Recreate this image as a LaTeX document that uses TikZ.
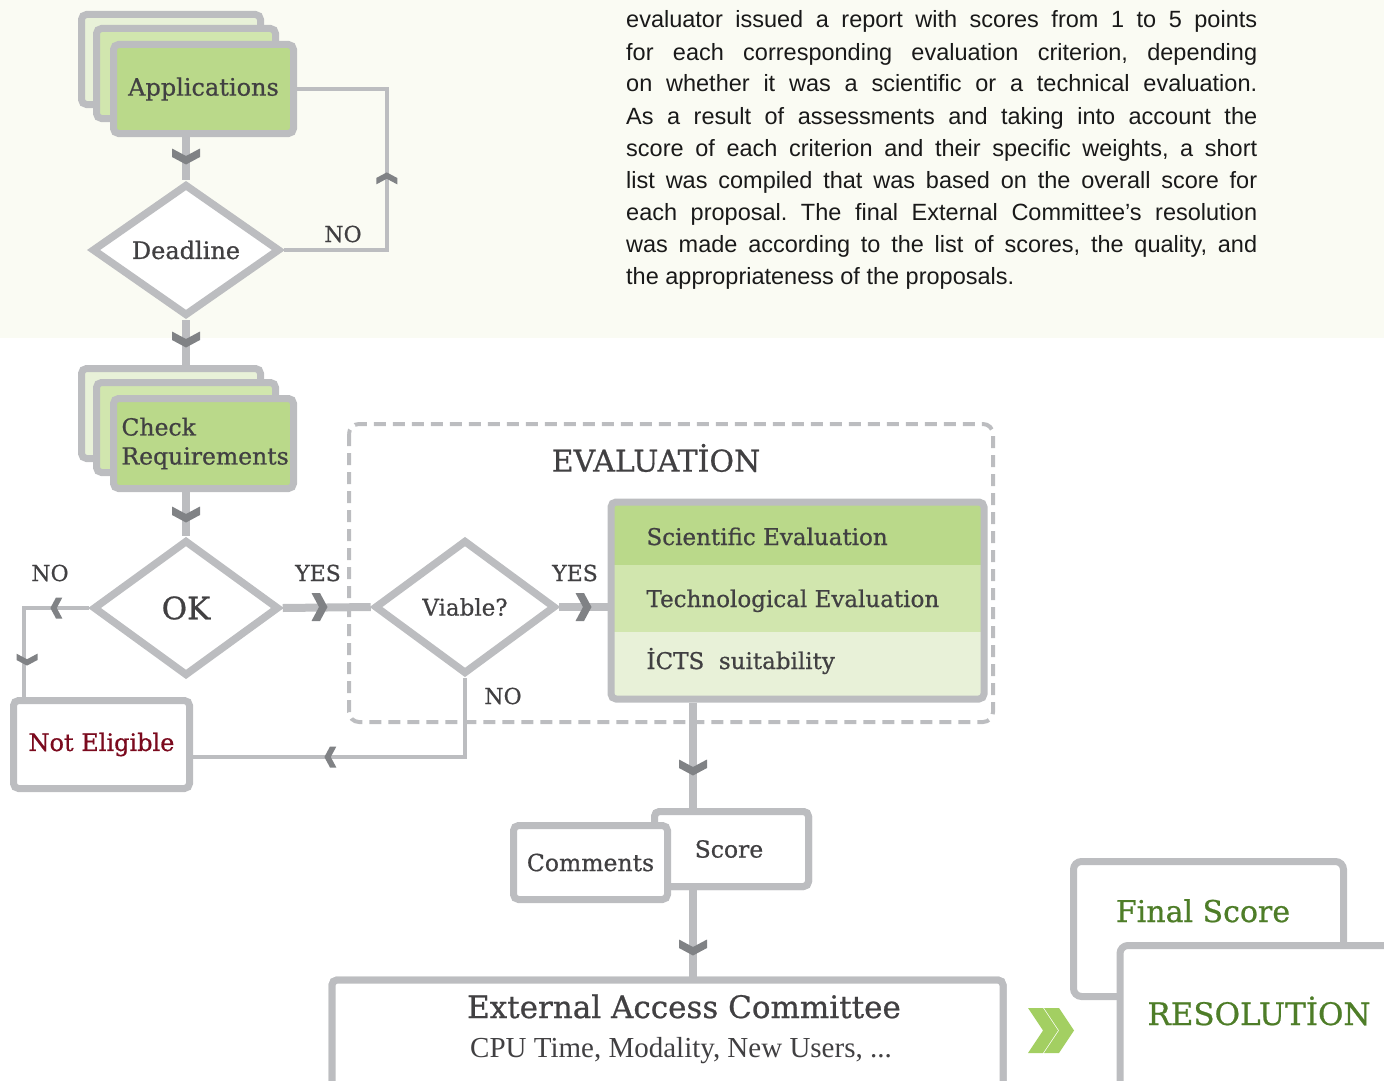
\documentclass[tikz,border=0pt]{standalone}
\usepackage{fontspec}
\usetikzlibrary{shapes.geometric,calc}
\newfontfamily\slab[FakeBold=0.7]{DejaVu Serif}
\newfontfamily\bodyf{Liberation Sans}
\newfontfamily\lightf{Liberation Serif}
\definecolor{gborder}{HTML}{BCBDC0}
\definecolor{chevc}{HTML}{808285}
\definecolor{tdark}{HTML}{414042}
\definecolor{gA}{HTML}{BAD98A}
\definecolor{gB}{HTML}{D1E6AE}
\definecolor{gC}{HTML}{E8F1D8}
\definecolor{cream}{HTML}{FAFBF3}
\definecolor{dred}{HTML}{7B0A1E}
\definecolor{fgreen}{HTML}{4E7D28}
\definecolor{lgreen}{HTML}{A3CF62}
\tikzset{
  box/.style={draw=gborder, line width=7pt, rounded corners=5pt, inner sep=0pt, fill=white},
  dia/.style={diamond, draw=gborder, line width=7.5pt, fill=white, inner sep=0pt},
  flow/.style={draw=gborder, line width=8pt},
  back/.style={draw=gborder, line width=4.5pt},
  txt/.style={font=\slab\fontsize{24}{29}\selectfont, text=tdark},
  lbl/.style={font=\slab\fontsize{22}{26}\selectfont, text=tdark},
  para/.style={font=\bodyf\fontsize{23.5}{32}\selectfont\frenchspacing, text=black!90, anchor=base west, inner sep=0pt},
  chev/.pic={\fill[chevc] (-8.5,-14)--(0,-14)--(7.5,0)--(0,14)--(-8.5,14)--(-1,0)--cycle;}
}
\begin{document}
\begin{tikzpicture}[x=1pt,y=1pt]
\useasboundingbox (0,0) rectangle (1384,-1081);
\clip (0,0) rectangle (1384,-1081);
\fill[cream] (0,0) rectangle (1384,-338);

% paragraph
\node[para] (l1) at (626,-28) {\makebox[631pt][s]{evaluator issued a report with scores from 1 to 5 points}};
\node[para] (l2) at (626,-60) {\makebox[631pt][s]{for each corresponding evaluation criterion, depending}};
\node[para] (l3) at (626,-92) {\makebox[631pt][s]{on whether it was a scientific or a technical evaluation.}};
\node[para] (l4) at (626,-124) {\makebox[631pt][s]{As a result of assessments and taking into account the}};
\node[para] (l5) at (626,-156) {\makebox[631pt][s]{score of each criterion and their specific weights, a short}};
\node[para] (l6) at (626,-188) {\makebox[631pt][s]{list was compiled that was based on the overall score for}};
\node[para] (l7) at (626,-220) {\makebox[631pt][s]{each proposal. The final External Committee’s resolution}};
\node[para] (l8) at (626,-252) {\makebox[631pt][s]{was made according to the list of scores, the quality, and}};
\node[para] (l9) at (626,-284) {the appropriateness of the proposals.};

% evaluation dashed frame
\draw[gborder, line width=4pt, dash pattern=on 12pt off 7pt, rounded corners=10pt] (349,-424) rectangle (993,-722);
\node[font=\slab\fontsize{30}{34}\selectfont, text=tdark] (evt) at (656,-458) {EVALUATİON};

% reference coordinates for the vertical flows
\coordinate (cl) at (186,0);
\coordinate (cx) at (693,0);

% connectors into the stacked boxes (drawn first, so the stacks cover their ends)
\coordinate (reqtop) at (186,-368);

% nodes
\node[box, fill=gC, minimum width=179pt, minimum height=90pt] (app3) at (171,-59.5) {};
\node[box, fill=gB, minimum width=179pt, minimum height=90pt] (app2) at (186,-73.5) {};
\node[box, fill=gA, minimum width=180pt, minimum height=89pt, txt] (app) at (203.5,-89) {Applications};

\node[dia, minimum width=188pt, minimum height=132pt, txt] (dead) at (186,-250) {Deadline};

\draw[flow] (dead.south) -- (reqtop);

\node[box, fill=gC, minimum width=179pt, minimum height=90pt] (req3) at (171,-413.5) {};
\node[box, fill=gB, minimum width=179pt, minimum height=90pt] (req2) at (186,-427.5) {};
\node[box, fill=gA, minimum width=180pt, minimum height=90pt, txt, font=\slab\fontsize{23.5}{29}\selectfont, text width=164pt, align=left] (req) at (203.5,-443.5) {Check\\Requirements};

\node[dia, minimum width=186pt, minimum height=136pt, font=\slab\fontsize{31}{34}\selectfont, text=tdark] (ok) at (186,-608) {OK};

\node[box, minimum width=176pt, minimum height=88pt, font=\slab\fontsize{24}{29}\selectfont, text=dred] (ne) at (101.5,-744.5) {Not Eligible};

\node[dia, minimum width=181pt, minimum height=134pt, lbl, font=\slab\fontsize{23}{27}\selectfont] (via) at (465,-607) {Viable?};

% connectors
\draw[flow] (app.south -| cl) -- (dead.north);
\draw[back] (dead.east) -- ++(103,0) coordinate (nc) |- (app.east);
\draw[flow] (req.south -| cl) -- (ok.north);
\draw[back] (ok.west) -| ($(ne.north west)+(14,0)$);
\draw[flow] (ok.east) -- (via.west);
\draw[back] (via.south) |- ($(ne.east)+(0,-12.5)$);

% evaluation panel
\fill[gA] (611,-502) rectangle (984,-565);
\fill[gB] (611,-565) rectangle (984,-632);
\fill[gC] (611,-632) rectangle (984,-699);
\node[box, fill=none, minimum width=373pt, minimum height=197pt] (panel) at (797.5,-600.5) {};
\draw[flow] (via.east) -- (via.east -| panel.west);
\node[txt, anchor=base west, font=\slab\fontsize{23}{27}\selectfont] (se) at (643,-545) {Scientific Evaluation};
\node[txt, anchor=base west, font=\slab\fontsize{23}{27}\selectfont] (te) at (643,-607) {Technological Evaluation};
\node[txt, anchor=base west, font=\slab\fontsize{23}{27}\selectfont] (ic) at (643,-669) {İCTS\ \ suitability};

% lower flow
\node[box, minimum width=154pt, minimum height=75pt] (score) at (731.5,-849) {};
\node[box, minimum width=671pt, minimum height=120pt] (eac) at (667.5,-1040) {};
\draw[flow] (panel.south -| cx) -- (score.north -| cx);
\draw[flow] (score.south -| cx) -- (eac.north -| cx);
\node[box, minimum width=154pt, minimum height=75pt] (score) at (731.5,-849) {};
\node[lbl, font=\slab\fontsize{23.5}{27}\selectfont] (scoret) at (729,-849) {Score};
\node[box, minimum width=154pt, minimum height=74pt, lbl, font=\slab\fontsize{23.5}{27}\selectfont] (com) at (590.5,-862.5) {Comments};
\node[box, minimum width=671pt, minimum height=120pt] (eac) at (667.5,-1040) {};
\node[anchor=base, font=\slab\fontsize{31}{34}\selectfont, text=tdark] (eact) at (684,-1018) {External Access Committee};
\node[anchor=base, font=\lightf\fontsize{29}{32}\selectfont, text=tdark] (eacs) at (681,-1057) {CPU Time, Modality, New Users, ...};

% final boxes
\node[box, rounded corners=8pt, minimum width=270pt, minimum height=135pt] (fs) at (1208.5,-929) {};
\node[anchor=base, font=\slab\fontsize{30}{34}\selectfont, text=fgreen] (fst) at (1203,-922) {Final Score};
\node[box, rounded corners=8pt, minimum width=300pt, minimum height=175pt] (res) at (1270,-1033) {};
\node[anchor=base, font=\slab\fontsize{31}{34}\selectfont, text=fgreen] (rest) at (1259,-1025) {RESOLUTİON};

% green double chevron
\fill[lgreen] (1028,-1008) -- (1043,-1008) -- (1058,-1030.5) -- (1043,-1053) -- (1028,-1053) -- (1043,-1030.5) -- cycle;
\fill[lgreen] (1044,-1008) -- (1059,-1008) -- (1074,-1030.5) -- (1059,-1053) -- (1044,-1053) -- (1059,-1030.5) -- cycle;

% chevrons
\pic[rotate=-90] at (186,-157) {chev};
\pic[rotate=-90] at (186,-340) {chev};
\pic[rotate=-90] at (186,-515) {chev};
\pic[rotate=90, scale=0.75] at (nc |- 0,-178) {chev};
\pic[rotate=180, scale=0.75] at (56,-608) {chev};
\pic[rotate=-90, scale=0.75] at (27,-660) {chev};
\pic at (320,-607) {chev};
\pic at (584,-607) {chev};
\pic[rotate=180, scale=0.75] at (330,-757) {chev};
\pic[rotate=-90] at (693,-768) {chev};
\pic[rotate=-90] at (693,-948) {chev};

% labels
\node[lbl] (n1) at (343,-234) {NO};
\node[lbl] (n2) at (50,-573) {NO};
\node[lbl] (y1) at (318,-573) {YES};
\node[lbl] (y2) at (575,-573) {YES};
\node[lbl] (n3) at (503,-696) {NO};
\end{tikzpicture}
\end{document}
